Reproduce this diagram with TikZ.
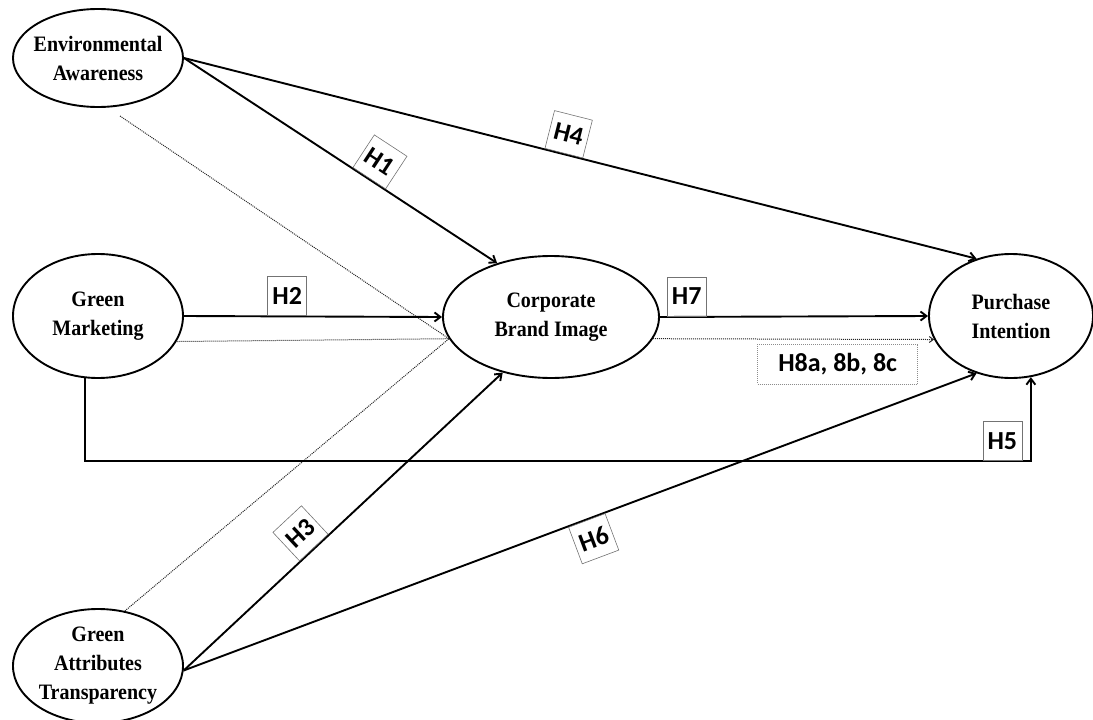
\documentclass[tikz,border=0pt]{standalone}
\usepackage{fontspec}
\setmainfont{Liberation Serif}
\newfontfamily\ellfont[FakeStretch=0.91]{Liberation Serif}
\newfontfamily\labfont{Carlito}
\usetikzlibrary{arrows.meta,shapes.geometric}
\begin{document}
\begin{tikzpicture}[x=1pt,y=-1pt,
  latent/.style={ellipse, draw, line width=1.9pt, inner sep=0pt},
  ltext/.style={align=center, font=\ellfont\fontsize{22}{29}\selectfont\bfseries, inner sep=0pt},
  conn/.style={line width=1.9pt, -{Straight Barb[length=6pt,width=9pt]}},
  dotconn/.style={line width=1pt, black!85, dash pattern=on 1pt off 1pt},
  hlab/.style={draw=black!55, text=black, line width=0.6pt, solid, minimum width=39pt, minimum height=39pt, inner sep=0pt, outer sep=1pt, font=\labfont\fontsize{26}{26}\selectfont\bfseries},
  hwide/.style={hlab, draw=black!45, dash pattern=on 1pt off 1pt, minimum width=160pt, minimum height=40pt},
]
\useasboundingbox (0,0) rectangle (1093,720);

% constructs
\node[latent, minimum width=170pt, minimum height=98pt,
      label={[ltext]center:{Environmental\\Awareness}}] (EA) at (98,58) {};
\node[latent, minimum width=170pt, minimum height=124pt,
      label={[ltext]center:{Green\\Marketing}}] (GM) at (98,316) {};
\node[latent, minimum width=170pt, minimum height=114pt,
      label={[ltext]center:{Green\\Attributes\\Transparency}}] (GAT) at (98,666) {};
\node[latent, minimum width=216pt, minimum height=122pt,
      label={[ltext]center:{Corporate\\Brand Image}}] (CBI) at (551,317) {};
\node[latent, minimum width=164pt, minimum height=124pt,
      label={[ltext]center:{Purchase\\Intention}}] (PI) at (1011,316) {};

% dotted mediation paths
\coordinate (eadot) at (120,116);
\draw[dotconn] (eadot) -- (CBI.192);
\draw[dotconn] (GM.-18) -- (CBI.192);
\draw[dotconn] (GAT.64) -- (CBI.192);
\draw[dotconn, -{Straight Barb[length=4pt,width=6pt]}] (CBI.-12) --
  node[hwide, below=4pt, pos=0.657] (h8) {H8a, 8b, 8c} (PI.197);

% direct paths
\draw[conn] (EA.east) -- node[hlab, sloped, above, pos=0.59] (h1) {H1} (CBI.135);
\draw[conn] (EA.east) -- node[hlab, sloped, above, pos=0.479] (h4) {H4} (PI.121);
\draw[conn] (GM.east) -- node[hlab, above, pos=0.40] (h2) {H2} (CBI.west);
\draw[conn] (GAT.-3) -- node[hlab, sloped, above, pos=0.41] (h3) {H3} (CBI.229);
\draw[conn] (GAT.-3) -- node[hlab, sloped, below, pos=0.508] (h6) {H6} (PI.239);
\draw[conn] (CBI.east) -- node[hlab, above, pos=0.10] (h7) {H7} (PI.west);

% H5 elbow
\draw[conn] (GM.258) -- ++(0,83) coordinate (c5) -| (PI.288);
\coordinate (c6) at (c5 -| PI.288);
\node[hlab, anchor=south east] (h5) at ([xshift=-8pt]c6) {H5};
\end{tikzpicture}
\end{document}
